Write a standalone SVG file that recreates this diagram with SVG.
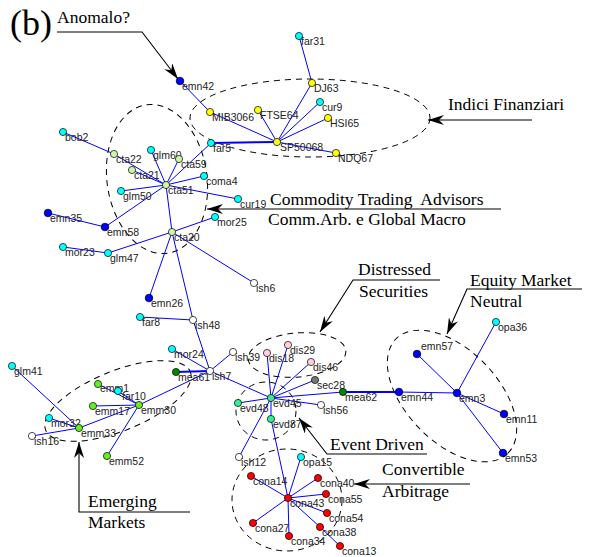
<svg xmlns="http://www.w3.org/2000/svg" width="591" height="557" viewBox="0 0 591 557">
<style>
.e{stroke:#0000ff;stroke-width:1;fill:none}
.t{stroke:#0000ff;stroke-width:2;fill:none}
.g{fill:none;stroke:#000;stroke-width:1;stroke-dasharray:6,5}
.a{fill:none;stroke:#000;stroke-width:1.1}
.n circle{stroke:#000;stroke-width:0.7}
.n text{font-family:"Liberation Sans",Arial,sans-serif;font-size:10.5px;fill:#222}
.L{font-family:"Liberation Serif","Times New Roman",serif;font-size:17.5px;fill:#000}
.cy{fill:#00ffff}.ye{fill:#ffff00}.bl{fill:#0000ff}.pg{fill:#ccf5a8}.lg{fill:#66ee22}.dg{fill:#008800}
.pk{fill:#ffd0dc}.gr{fill:#777}.wh{fill:#fff}.sg{fill:#33ee99}.rd{fill:#ff0000}
</style>
<defs>
<marker id="ah" markerUnits="userSpaceOnUse" markerWidth="17" markerHeight="10" refX="16" refY="5" orient="auto">
<path d="M0,0 L16,5 L0,10 L5,5 z" fill="#000"/>
</marker>
</defs>
<rect width="591" height="557" fill="#fff"/>
<text x="10" y="35" font-family="Liberation Serif,serif" font-size="36" fill="#000">(b)</text>

<g id="groups">
<ellipse class="g" cx="310" cy="118" rx="120" ry="39"/>
<ellipse class="g" cx="157" cy="179" rx="50" ry="75" transform="rotate(-8 157 179)"/>
<ellipse class="g" cx="297" cy="355" rx="49" ry="22" transform="rotate(-5 297 355)"/>
<ellipse class="g" cx="266" cy="411" rx="30" ry="29"/>
<ellipse class="g" cx="118" cy="401" rx="78" ry="30" transform="rotate(-22 118 401)"/>
<ellipse class="g" cx="452" cy="396" rx="80" ry="46" transform="rotate(46 452 396)"/>
<ellipse class="g" cx="287" cy="500" rx="55" ry="51"/>
</g>

<g id="connectors">
<line class="e" x1="299" y1="36" x2="312" y2="83"/>
<line class="e" x1="180" y1="81" x2="210" y2="112"/>
<line class="e" x1="210" y1="112" x2="277" y2="142"/>
<line class="e" x1="258" y1="110" x2="277" y2="142"/>
<line class="e" x1="312" y1="83" x2="277" y2="142"/>
<line class="e" x1="320" y1="102" x2="277" y2="142"/>
<line class="e" x1="328" y1="118" x2="277" y2="142"/>
<line class="t" x1="211" y1="143" x2="277" y2="142"/>
<line class="e" x1="277" y1="142" x2="336" y2="153"/>
<line class="e" x1="211" y1="143" x2="166" y2="185"/>
<line class="e" x1="63" y1="132" x2="114" y2="154"/>
<line class="e" x1="114" y1="154" x2="166" y2="185"/>
<line class="e" x1="151" y1="150" x2="166" y2="185"/>
<line class="e" x1="179" y1="159" x2="166" y2="185"/>
<line class="e" x1="132" y1="170" x2="166" y2="185"/>
<line class="e" x1="204" y1="176" x2="166" y2="185"/>
<line class="e" x1="166" y1="185" x2="238" y2="199"/>
<line class="e" x1="121" y1="191" x2="166" y2="185"/>
<line class="e" x1="105" y1="227" x2="166" y2="185"/>
<line class="e" x1="48" y1="213" x2="105" y2="227"/>
<line class="e" x1="166" y1="185" x2="172" y2="232"/>
<line class="e" x1="172" y1="232" x2="215" y2="217"/>
<line class="e" x1="172" y1="232" x2="108" y2="253"/>
<line class="e" x1="108" y1="253" x2="63" y2="247" stroke-width="1.5"/>
<line class="e" x1="172" y1="232" x2="149" y2="298"/>
<line class="e" x1="172" y1="232" x2="193" y2="320"/>
<line class="e" x1="172" y1="232" x2="254" y2="283"/>
<line class="e" x1="140" y1="317" x2="193" y2="320" stroke-width="1.5"/>
<line class="e" x1="193" y1="320" x2="210" y2="371"/>
<line class="e" x1="172" y1="349" x2="210" y2="371"/>
<line class="t" x1="176" y1="372" x2="210" y2="371"/>
<line class="e" x1="233" y1="352" x2="210" y2="371"/>
<line class="e" x1="210" y1="371" x2="271" y2="398"/>
<line class="e" x1="139" y1="405" x2="210" y2="371"/>
<line class="e" x1="98" y1="384" x2="139" y2="405"/>
<line class="e" x1="118" y1="391" x2="139" y2="405"/>
<line class="e" x1="93" y1="406" x2="139" y2="405"/>
<line class="e" x1="139" y1="405" x2="79" y2="428"/>
<line class="e" x1="139" y1="405" x2="107" y2="456"/>
<line class="e" x1="12" y1="366" x2="79" y2="428"/>
<line class="e" x1="49" y1="418" x2="79" y2="428"/>
<line class="e" x1="32" y1="436" x2="79" y2="428"/>
<line class="e" x1="271" y1="398" x2="267" y2="353"/>
<line class="e" x1="271" y1="398" x2="288" y2="345"/>
<line class="e" x1="271" y1="398" x2="311" y2="362"/>
<line class="e" x1="271" y1="398" x2="315" y2="380"/>
<line class="e" x1="271" y1="398" x2="343" y2="392"/>
<line class="t" x1="343" y1="392" x2="399" y2="392"/>
<line class="e" x1="271" y1="398" x2="321" y2="405"/>
<line class="e" x1="271" y1="398" x2="238" y2="403"/>
<line class="e" x1="271" y1="398" x2="271" y2="419"/>
<line class="e" x1="271" y1="398" x2="239" y2="457"/>
<line class="e" x1="271" y1="419" x2="288" y2="498"/>
<line class="e" x1="301" y1="457" x2="288" y2="498"/>
<line class="e" x1="288" y1="498" x2="251" y2="476"/>
<line class="e" x1="288" y1="498" x2="318" y2="478"/>
<line class="e" x1="288" y1="498" x2="326" y2="494"/>
<line class="e" x1="288" y1="498" x2="327" y2="513"/>
<line class="e" x1="288" y1="498" x2="253" y2="523"/>
<line class="e" x1="288" y1="498" x2="320" y2="527"/>
<line class="e" x1="320" y1="527" x2="340" y2="546"/>
<line class="e" x1="288" y1="498" x2="289" y2="536"/>
<line class="e" x1="399" y1="392" x2="457" y2="393"/>
<line class="e" x1="417" y1="354" x2="457" y2="393"/>
<line class="e" x1="496" y1="322" x2="457" y2="393"/>
<line class="e" x1="457" y1="393" x2="504" y2="414"/>
<line class="e" x1="457" y1="393" x2="503" y2="453"/>
</g>

<g id="annotations">
<text class="L" x="57" y="23">Anomalo?</text>
<polyline class="a" points="57,32 142,32 178,79" marker-end="url(#ah)"/>
<text class="L" x="448" y="110">Indici Finanziari</text>
<line class="a" x1="532" y1="120" x2="428" y2="120" marker-end="url(#ah)"/>
<text class="L" x="270" y="205" xml:space="preserve">Commodity Trading  Advisors</text>
<text class="L" x="268" y="225">Comm.Arb. e Global Macro</text>
<line class="a" x1="501" y1="209" x2="207" y2="209" marker-end="url(#ah)"/>
<text class="L" x="358" y="275">Distressed</text>
<text class="L" x="359" y="297">Securities</text>
<polyline class="a" points="440,280 353,280 320,332" marker-end="url(#ah)"/>
<text class="L" x="470" y="286">Equity Market</text>
<text class="L" x="470" y="307">Neutral</text>
<polyline class="a" points="582,289 467,289 447,334" marker-end="url(#ah)"/>
<text class="L" x="330" y="450">Event Driven</text>
<polyline class="a" points="427,454 327,454 299,418" marker-end="url(#ah)"/>
<text class="L" x="382" y="475">Convertible</text>
<text class="L" x="382" y="497">Arbitrage</text>
<line class="a" x1="470" y1="484" x2="354" y2="484" marker-end="url(#ah)"/>
<text class="L" x="88" y="507">Emerging</text>
<text class="L" x="88" y="528">Markets</text>
<polyline class="a" points="190,512 79,512 79,442" marker-end="url(#ah)"/>
</g>

<g id="nodes">
<g id="far31" class="n"><circle class="cy" cx="299" cy="36" r="3.6"/><text x="301" y="45">far31</text></g>
<g id="emn42" class="n"><circle class="bl" cx="180" cy="81" r="3.8"/><text x="182" y="90">emn42</text></g>
<g id="DJ63" class="n"><circle class="ye" cx="312" cy="83" r="3.6"/><text x="314" y="92">DJ63</text></g>
<g id="cur9" class="n"><circle class="cy" cx="320" cy="102" r="3.6"/><text x="322" y="111">cur9</text></g>
<g id="MIB3066" class="n"><circle class="ye" cx="210" cy="112" r="3.6"/><text x="212" y="121">MIB3066</text></g>
<g id="FTSE64" class="n"><circle class="ye" cx="258" cy="110" r="3.6"/><text x="260" y="119">FTSE64</text></g>
<g id="HSI65" class="n"><circle class="ye" cx="328" cy="118" r="3.6"/><text x="330" y="127">HSI65</text></g>
<g id="far5" class="n"><circle class="cy" cx="211" cy="143" r="3.6"/><text x="213" y="152">far5</text></g>
<g id="SP50068" class="n"><circle class="ye" cx="277" cy="142" r="3.6"/><text x="280" y="151">SP50068</text></g>
<g id="NDQ67" class="n"><circle class="ye" cx="336" cy="153" r="3.6"/><text x="338" y="162">NDQ67</text></g>
<g id="bob2" class="n"><circle class="cy" cx="63" cy="132" r="3.6"/><text x="65" y="141">bob2</text></g>
<g id="cta22" class="n"><circle class="pg" cx="114" cy="154" r="3.6"/><text x="116" y="163">cta22</text></g>
<g id="glm60" class="n"><circle class="cy" cx="151" cy="150" r="3.6"/><text x="153" y="159">glm60</text></g>
<g id="cta59" class="n"><circle class="pg" cx="179" cy="159" r="3.6"/><text x="181" y="168">cta59</text></g>
<g id="cta21" class="n"><circle class="pg" cx="132" cy="170" r="3.6"/><text x="134" y="179">cta21</text></g>
<g id="coma4" class="n"><circle class="cy" cx="204" cy="176" r="3.6"/><text x="206" y="185">coma4</text></g>
<g id="cta51" class="n"><circle class="pg" cx="166" cy="185" r="3.6"/><text x="168" y="194">cta51</text></g>
<g id="glm50" class="n"><circle class="cy" cx="121" cy="191" r="3.6"/><text x="123" y="200">glm50</text></g>
<g id="cur19" class="n"><circle class="cy" cx="238" cy="199" r="3.6"/><text x="240" y="208">cur19</text></g>
<g id="emn35" class="n"><circle class="bl" cx="48" cy="213" r="3.8"/><text x="50" y="222">emn35</text></g>
<g id="emn58" class="n"><circle class="bl" cx="105" cy="227" r="3.8"/><text x="107" y="236">emn58</text></g>
<g id="mor25" class="n"><circle class="cy" cx="215" cy="217" r="3.6"/><text x="217" y="226">mor25</text></g>
<g id="cta20" class="n"><circle class="pg" cx="172" cy="232" r="3.6"/><text x="174" y="241">cta20</text></g>
<g id="mor23" class="n"><circle class="cy" cx="63" cy="247" r="3.6"/><text x="65" y="256">mor23</text></g>
<g id="glm47" class="n"><circle class="cy" cx="108" cy="253" r="3.6"/><text x="110" y="262">glm47</text></g>
<g id="ish6" class="n"><circle class="wh" cx="254" cy="283" r="3.6"/><text x="256" y="292">ish6</text></g>
<g id="emn26" class="n"><circle class="bl" cx="149" cy="298" r="3.8"/><text x="151" y="307">emn26</text></g>
<g id="far8" class="n"><circle class="cy" cx="140" cy="317" r="3.6"/><text x="142" y="326">far8</text></g>
<g id="ish48" class="n"><circle class="wh" cx="193" cy="320" r="3.6"/><text x="195" y="329">ish48</text></g>
<g id="mor24" class="n"><circle class="cy" cx="172" cy="349" r="3.6"/><text x="174" y="358">mor24</text></g>
<g id="ish39" class="n"><circle class="wh" cx="233" cy="352" r="3.6"/><text x="235" y="361">ish39</text></g>
<g id="mea61" class="n"><circle class="dg" cx="176" cy="372" r="3.6"/><text x="178" y="381">mea61</text></g>
<g id="ish7" class="n"><circle class="wh" cx="210" cy="371" r="3.6"/><text x="212" y="380">ish7</text></g>
<g id="dis18" class="n"><circle class="pk" cx="267" cy="353" r="3.6"/><text x="269" y="362">dis18</text></g>
<g id="dis29" class="n"><circle class="pk" cx="288" cy="345" r="3.6"/><text x="290" y="354">dis29</text></g>
<g id="dis46" class="n"><circle class="pk" cx="311" cy="362" r="3.6"/><text x="313" y="371">dis46</text></g>
<g id="sec28" class="n"><circle class="gr" cx="315" cy="380" r="3.6"/><text x="317" y="389">sec28</text></g>
<g id="mea62" class="n"><circle class="dg" cx="343" cy="392" r="3.6"/><text x="345" y="401">mea62</text></g>
<g id="evd45" class="n"><circle class="sg" cx="271" cy="398" r="3.6"/><text x="273" y="407">evd45</text></g>
<g id="evd48" class="n"><circle class="sg" cx="238" cy="403" r="3.6"/><text x="240" y="412">evd48</text></g>
<g id="ish56" class="n"><circle class="wh" cx="321" cy="405" r="3.6"/><text x="323" y="414">ish56</text></g>
<g id="evd87" class="n"><circle class="sg" cx="271" cy="419" r="3.6"/><text x="273" y="428">evd87</text></g>
<g id="ish12" class="n"><circle class="wh" cx="239" cy="457" r="3.6"/><text x="241" y="466">ish12</text></g>
<g id="opa15" class="n"><circle class="cy" cx="301" cy="457" r="3.6"/><text x="303" y="466">opa15</text></g>
<g id="glm41" class="n"><circle class="cy" cx="12" cy="366" r="3.6"/><text x="14" y="375">glm41</text></g>
<g id="emm1" class="n"><circle class="lg" cx="98" cy="384" r="3.6"/><text x="100" y="392">emm1</text></g>
<g id="far10" class="n"><circle class="cy" cx="118" cy="391" r="3.6"/><text x="122" y="400">far10</text></g>
<g id="emm17" class="n"><circle class="lg" cx="93" cy="406" r="3.6"/><text x="95" y="415">emm17</text></g>
<g id="emm30" class="n"><circle class="lg" cx="139" cy="405" r="3.6"/><text x="141" y="414">emm30</text></g>
<g id="mor32" class="n"><circle class="cy" cx="49" cy="418" r="3.6"/><text x="51" y="427">mor32</text></g>
<g id="emm33" class="n"><circle class="lg" cx="79" cy="428" r="3.6"/><text x="81" y="437">emm33</text></g>
<g id="ish16" class="n"><circle class="wh" cx="32" cy="436" r="3.6"/><text x="34" y="445">ish16</text></g>
<g id="emm52" class="n"><circle class="lg" cx="107" cy="456" r="3.6"/><text x="109" y="465">emm52</text></g>
<g id="opa36" class="n"><circle class="cy" cx="496" cy="322" r="3.6"/><text x="498" y="331">opa36</text></g>
<g id="emn57" class="n"><circle class="bl" cx="417" cy="354" r="3.8"/><text x="421" y="350">emn57</text></g>
<g id="emn44" class="n"><circle class="bl" cx="399" cy="392" r="3.8"/><text x="401" y="401">emn44</text></g>
<g id="emn3" class="n"><circle class="bl" cx="457" cy="393" r="3.8"/><text x="459" y="402">emn3</text></g>
<g id="emn11" class="n"><circle class="bl" cx="504" cy="414" r="3.8"/><text x="506" y="423">emn11</text></g>
<g id="emn53" class="n"><circle class="bl" cx="503" cy="453" r="3.8"/><text x="505" y="462">emn53</text></g>
<g id="cona14" class="n"><circle class="rd" cx="251" cy="476" r="3.6"/><text x="253" y="485">cona14</text></g>
<g id="cona40" class="n"><circle class="rd" cx="318" cy="478" r="3.6"/><text x="320" y="487">cona40</text></g>
<g id="cona55" class="n"><circle class="rd" cx="326" cy="494" r="3.6"/><text x="328" y="503">cona55</text></g>
<g id="cona43" class="n"><circle class="rd" cx="288" cy="498" r="3.6"/><text x="290" y="507">cona43</text></g>
<g id="cona54" class="n"><circle class="rd" cx="327" cy="513" r="3.6"/><text x="329" y="522">cona54</text></g>
<g id="cona27" class="n"><circle class="rd" cx="253" cy="523" r="3.6"/><text x="255" y="532">cona27</text></g>
<g id="cona38" class="n"><circle class="rd" cx="320" cy="527" r="3.6"/><text x="322" y="536">cona38</text></g>
<g id="cona34" class="n"><circle class="rd" cx="289" cy="536" r="3.6"/><text x="291" y="545">cona34</text></g>
<g id="cona13" class="n"><circle class="rd" cx="340" cy="546" r="3.6"/><text x="342" y="555">cona13</text></g>
</g>
</svg>
